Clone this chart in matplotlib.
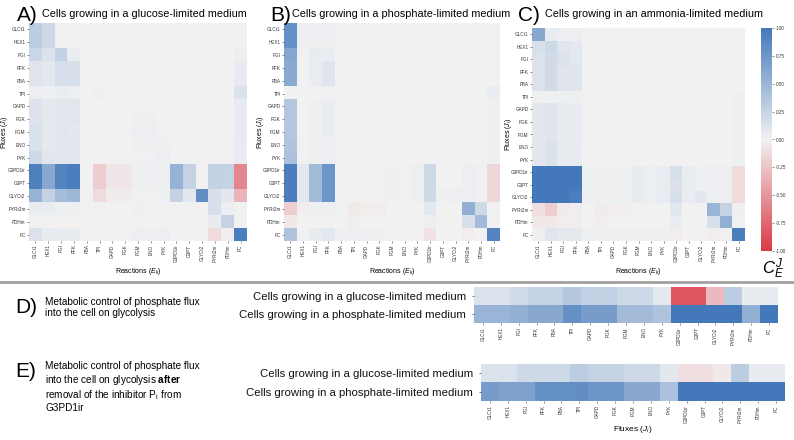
import numpy as np
import matplotlib
matplotlib.use("Agg")
import matplotlib.pyplot as plt
from matplotlib.lines import Line2D
import seaborn as sns

plt.rcParams['font.family'] = ['Liberation Sans', 'DejaVu Sans']
plt.rcParams['mathtext.fontset'] = 'custom'
plt.rcParams['mathtext.rm'] = 'Liberation Sans'
plt.rcParams['mathtext.it'] = 'Liberation Sans:italic'
plt.rcParams['mathtext.bf'] = 'Liberation Sans:bold'

reactions = ['GLCt1', 'HEX1', 'PGI', 'PFK', 'FBA', 'TPI', 'GAPD', 'PGK', 'PGM',
             'ENO', 'PYK', 'G3PD1ir', 'G3PT', 'GLYCt2', 'PYRt2m', 'PDHm', 'PC']
fluxes = reactions

# control coefficients, rows = fluxes, columns = reactions
glucose_cc = [
    [0.30, 0.20, 0, 0, 0, 0, 0, 0, 0, 0, 0, 0, 0, 0, 0, 0, 0.01],
    [0.30, 0.20, 0, 0, 0, 0, 0, 0, 0, 0, 0, 0, 0, 0, 0, 0, 0.01],
    [0.22, 0.12, 0.27, 0.04, 0, 0, 0, 0, 0, 0, 0, 0, 0, 0, 0, 0, 0.03],
    [0.10, 0.08, 0.15, 0.15, 0, 0, 0, 0, 0, 0, 0, 0, 0, 0, 0, 0, 0.06],
    [0.10, 0.08, 0.15, 0.15, 0, 0, 0, 0, 0, 0, 0, 0, 0, 0, 0, 0, 0.06],
    [0.03, 0.02, 0.04, 0.03, 0, 0.02, 0, 0, 0, 0, 0, 0, 0, 0, -0.01, 0, 0.12],
    [0.11, 0.07, 0.09, 0.09, 0, 0, 0, 0, 0, 0, 0, 0, 0, 0, 0, 0, 0.06],
    [0.11, 0.07, 0.09, 0.09, 0, 0, 0, 0, 0.02, 0.02, 0, 0, 0, 0, 0, 0, 0.06],
    [0.14, 0.07, 0.09, 0.08, 0, 0, 0, 0, 0.03, 0.03, 0, 0, 0, 0, 0, 0, 0.06],
    [0.14, 0.07, 0.08, 0.08, 0, 0, 0, 0, 0.02, 0.02, 0.02, 0, 0, 0, 0, 0, 0.05],
    [0.20, 0.09, 0.08, 0.08, 0, 0, 0, 0, 0.01, 0.01, 0.03, 0, 0, 0, 0, 0, 0.05],
    [0.93, 0.60, 0.90, 0.95, 0, -0.20, -0.06, -0.06, 0.02, 0.02, 0.03, 0.52, 0.25, 0, 0.27, 0.25, -0.58],
    [0.93, 0.60, 0.90, 0.95, 0, -0.20, -0.06, -0.06, 0.02, 0.02, 0.03, 0.52, 0.25, 0, 0.27, 0.25, -0.58],
    [0.52, 0.25, 0.43, 0.47, 0, -0.12, -0.03, -0.03, 0.01, 0.01, 0.02, 0.25, 0.08, 0.82, 0.15, 0.08, -0.33],
    [0.05, 0.04, 0.02, 0.02, 0, 0, 0, 0, 0.02, 0, 0, 0, 0, 0, 0.15, 0.03, 0],
    [0.01, 0, -0.01, -0.01, 0, 0, 0, 0, 0, 0, 0, 0, 0, 0, 0.05, 0.25, 0],
    [0.12, 0.05, 0.05, 0.05, 0, 0, 0, 0, 0.03, 0.02, 0.03, 0, 0, 0, -0.12, -0.02, 0.95],
]

phosphate_cc = [
    [0.80, 0.03, 0.03, 0.03, 0, 0, 0, 0, 0, 0, 0, 0, 0, 0, 0, 0, 0],
    [0.80, 0.02, 0.02, 0.02, 0, 0, 0, 0, 0, 0, 0, 0, 0, 0, 0, 0, 0],
    [0.62, 0, 0.05, 0.04, 0, 0, 0, 0, 0, 0, 0, 0, 0, 0, 0, 0, 0],
    [0.58, 0, 0.04, 0.10, 0, 0, 0, 0, 0, 0, 0, 0.01, 0, 0, 0, 0, 0],
    [0.58, 0, 0.04, 0.10, 0, 0, 0, 0, 0, 0, 0, 0.01, 0, 0, 0, 0, 0],
    [0, 0, 0, 0, 0, 0, 0, 0, 0, 0, 0, 0, 0, 0, 0, 0, 0.04],
    [0.35, 0, 0.02, 0.04, 0, 0, 0, 0, 0, 0, 0, 0, 0, 0, 0, 0, 0.02],
    [0.35, 0, 0.02, 0.04, 0, 0, 0, 0, 0, 0, 0, 0, 0, 0, 0, 0, 0.02],
    [0.35, 0, 0.02, 0.04, 0, 0, 0, 0, 0, 0, 0, 0, 0, 0, 0, 0, 0.02],
    [0.37, 0, 0.02, 0.03, 0, 0, 0, 0, 0, 0, 0, 0, 0, 0, 0, 0, 0.02],
    [0.40, 0, 0.02, 0.03, 0, 0, 0, 0, 0, 0, 0, 0, 0, 0, 0, 0, 0.02],
    [0.95, 0.08, 0.45, 0.75, 0.01, 0, 0, 0, 0.02, 0, 0.03, 0.20, 0, 0, 0.03, 0.01, -0.15],
    [0.95, 0.08, 0.45, 0.75, 0.01, 0, 0, 0, 0.02, 0, 0.03, 0.20, 0, 0, 0.03, 0.01, -0.15],
    [0.95, 0.08, 0.45, 0.75, 0.01, 0, 0, 0, 0.02, 0, 0.03, 0.20, 0.02, 0.03, 0.03, 0.01, -0.15],
    [-0.20, -0.02, 0.02, 0.02, 0, -0.05, -0.03, -0.03, 0, 0, 0, 0.08, 0, 0, 0.55, 0.20, 0],
    [-0.05, 0, 0, 0, 0, -0.02, 0, 0, 0, 0, 0, 0.03, 0, 0, 0.15, 0.45, 0],
    [0.38, 0, 0.05, 0.08, 0.02, 0.03, 0.02, 0.02, 0, 0, 0, -0.08, 0, 0, -0.02, 0, 0.90],
]

ammonia_cc = [
    [0.60, 0.05, 0.03, 0.03, 0, 0, 0, 0, 0, 0, 0, 0, 0, 0, 0, 0, 0],
    [0.15, 0.20, 0.10, 0.08, 0, 0, 0, 0, 0, 0, 0, 0, 0, 0, 0, 0, 0],
    [0.12, 0.18, 0.12, 0.08, 0, 0, 0, 0, 0, 0, 0, 0, 0, 0, 0, 0, 0],
    [0.12, 0.18, 0.10, 0.10, 0, 0, 0, 0, 0, 0, 0, 0, 0, 0, 0, 0, 0],
    [0.12, 0.18, 0.10, 0.10, 0, 0, 0, 0, 0, 0, 0, 0, 0, 0, 0, 0, 0],
    [0.02, 0.02, 0.02, 0.02, 0, 0, 0, 0, 0, 0, 0, 0, 0, 0, 0, 0, 0.02],
    [0.08, 0.10, 0.06, 0.05, 0, 0, 0, 0, 0, 0, 0, 0, 0, 0, 0, 0, 0.02],
    [0.08, 0.10, 0.06, 0.05, 0, 0, 0, 0, 0, 0, 0, 0, 0, 0, 0, 0, 0.02],
    [0.08, 0.10, 0.06, 0.05, 0, 0, 0, 0, 0, 0, 0, 0, 0, 0, 0, 0, 0.02],
    [0.08, 0.12, 0.06, 0.06, 0, 0, 0, 0, 0, 0, 0, 0, 0, 0, 0, 0, 0.02],
    [0.08, 0.12, 0.06, 0.06, 0, 0, 0, 0, 0, 0, 0, 0, 0, 0, 0, 0, 0.02],
    [1.00, 1.00, 1.00, 1.00, 0.02, 0.02, 0.02, 0.02, 0.05, 0.03, 0.05, 0.15, 0.04, 0.02, 0.03, 0.03, -0.12],
    [1.00, 1.00, 1.00, 1.00, 0.02, 0.02, 0.02, 0.02, 0.05, 0.03, 0.05, 0.12, 0.04, 0.02, 0.03, 0.03, -0.12],
    [1.00, 1.00, 1.00, 0.95, 0.02, 0.02, 0.02, 0.02, 0.05, 0.03, 0.05, 0.15, 0.04, 0.08, 0.03, 0.03, -0.12],
    [-0.10, -0.20, -0.04, -0.02, 0, -0.03, -0.02, -0.02, 0, 0, 0, 0.08, 0, 0, 0.50, 0.25, 0.02],
    [-0.05, -0.05, -0.02, -0.02, 0, -0.02, 0, 0, 0, 0, 0, 0.04, 0, 0, 0.15, 0.55, 0],
    [0.02, 0.10, 0.07, 0.07, 0.02, 0.02, 0.02, 0.02, 0.02, 0.02, 0.02, -0.02, 0, 0, -0.02, 0, 0.95],
]

# D) control of phosphate flux on glycolysis
d_glucose = [0.12, 0.12, 0.18, 0.25, 0.25, 0.35, 0.28, 0.28, 0.20, 0.20, 0.07,
             -0.85, -0.85, -0.30, 0.30, 0.05, 0.05]
d_phosphate = [0.50, 0.50, 0.55, 0.60, 0.60, 0.80, 0.70, 0.70, 0.45, 0.45, 0.38,
               1.00, 1.00, 1.00, 1.00, 0.55, 1.00]
# E) same after removal of the P_i inhibition of G3PD1ir
e_glucose = [0.12, 0.12, 0.20, 0.20, 0.20, 0.30, 0.25, 0.25, 0.20, 0.20, 0.08,
             -0.10, -0.10, -0.05, 0.30, 0.05, 0.05]
e_phosphate = [0.70, 0.65, 0.65, 0.80, 0.80, 0.82, 0.75, 0.75, 0.60, 0.60, 0.40,
               1.00, 1.00, 1.00, 1.00, 1.00, 1.00]

row_labels = ['Cells growing in a glucose-limited medium',
              'Cells growing in a phosphate-limited medium']

cmap = sns.diverging_palette(10, 250, as_cmap=True)

W, H = 794, 440
fig = plt.figure(figsize=(W / 100, H / 100), dpi=100)


def box(x0, y0, x1, y1):
    # pixel box (top-left origin) -> figure fraction rect
    return [x0 / W, 1 - y1 / H, (x1 - x0) / W, (y1 - y0) / H]


def tick_style(ax):
    ax.tick_params(length=1.5, width=0.4, pad=1, labelsize=3.3, colors='#333333')
    for s in ax.spines.values():
        s.set_visible(False)


def matrix_panel(rect, data):
    ax = fig.add_axes(rect)
    im = ax.imshow(np.array(data), cmap=cmap, vmin=-1, vmax=1, aspect='auto',
                   interpolation='nearest')
    ax.set_xticks(range(len(reactions)))
    ax.set_xticklabels(reactions, rotation=90)
    ax.set_yticks(range(len(fluxes)))
    ax.set_yticklabels(fluxes)
    tick_style(ax)
    ax.set_xlabel(r'Reactions ($E_k$)', fontsize=5, labelpad=3)
    ax.set_ylabel(r'Fluxes ($J_i$)', fontsize=5)
    ax.yaxis.set_label_coords(-0.085, 0.5)
    return im


im = matrix_panel(box(29, 23, 247, 241), glucose_cc)
matrix_panel(box(284, 23, 500, 241), phosphate_cc)
matrix_panel(box(532, 28, 745, 241), ammonia_cc)

cax = fig.add_axes(box(761, 28, 772, 251))
cb = fig.colorbar(im, cax=cax, ticks=[1, 0.75, 0.5, 0.25, 0, -0.25, -0.5, -0.75, -1])
cb.ax.set_yticklabels(['1.00', '0.75', '0.50', '0.25', '0.00', '-0.25', '-0.50', '-0.75', '-1.00'])
cb.ax.tick_params(length=1.5, width=0.4, pad=1, labelsize=3.3, colors='#333333')
cb.outline.set_visible(False)
fig.text(762 / W, 1 - 274 / H, r'$C_E^J$', fontsize=12)

titles = [(17, 'A)', 42, 'Cells growing in a glucose-limited medium'),
          (270, 'B)', 292, 'Cells growing in a phosphate-limited medium'),
          (518, 'C)', 545, 'Cells growing in an ammonia-limited medium')]
for lx, letter, tx, txt in titles:
    fig.text(lx / W, 1 - 21 / H, letter, fontsize=15, va='baseline')
    fig.text(tx / W, 1 - 17 / H, txt, fontsize=7.8, va='baseline')

fig.add_artist(Line2D([0, 1], [1 - 282 / H, 1 - 282 / H], transform=fig.transFigure,
                      color='#a0a0a0', lw=2))


def strip_panel(rect, rows, xlabel=None):
    ax = fig.add_axes(rect)
    ax.imshow(np.array(rows), cmap=cmap, vmin=-1, vmax=1, aspect='auto',
              interpolation='nearest')
    ax.set_xticks(range(len(fluxes)))
    ax.set_xticklabels(fluxes, rotation=90)
    ax.set_yticks([0, 1])
    ax.set_yticklabels(row_labels)
    tick_style(ax)
    ax.tick_params(axis='x', pad=1.5)
    ax.tick_params(axis='y', labelsize=8.2, colors='#111111', pad=4)
    if xlabel:
        ax.set_xlabel(xlabel, fontsize=6, labelpad=1)
    return ax


strip_panel(box(474, 287, 778, 323), [d_glucose, d_phosphate])
strip_panel(box(481, 364, 785, 401), [e_glucose, e_phosphate], r'Fluxes ($J_i$)')

fig.text(15 / W, 1 - 313 / H, 'D)', fontsize=15, va='baseline')
fig.text(45 / W, 1 - 297 / H,
         'Metabolic control of phosphate flux\ninto the cell on glycolysis',
         fontsize=7.2, va='top', linespacing=1.15)
fig.text(15 / W, 1 - 377 / H, 'E)', fontsize=15, va='baseline')
fig.text(45 / W, 1 - 361 / H,
         'Metabolic control of phosphate flux\n'
         'into the cell on glycolysis $\\mathbf{after}$\n'
         'removal of the inhibitor P$_\\mathrm{i}$ from\n'
         'G3PD1ir',
         fontsize=7.2, va='top', linespacing=1.15)

fig.savefig('out.png', dpi=100)
